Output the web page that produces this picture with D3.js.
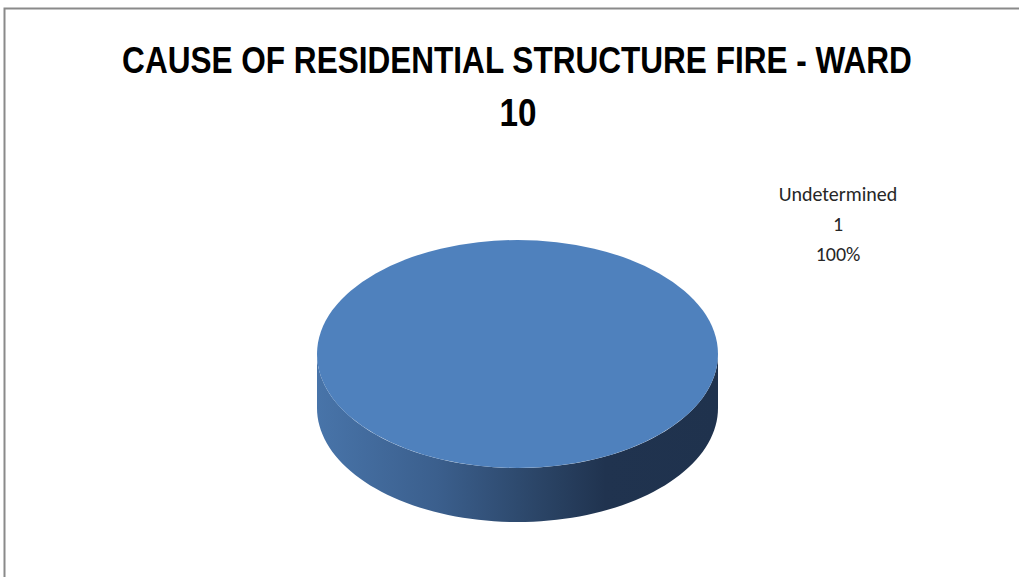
<!DOCTYPE html>
<html>
<head>
<meta charset="utf-8">
<script src="https://cdn.jsdelivr.net/npm/d3@7"></script>
<style>
  html, body { margin: 0; padding: 0; background: #ffffff; }
  svg { display: block; }
</style>
</head>
<body>
<svg id="chart" width="1019" height="577"></svg>
<script>
// ---- data ----
const titleLines = ["CAUSE OF RESIDENTIAL STRUCTURE FIRE - WARD", "10"];
const categories = ["Undetermined"];
const values = [1];
const colors = ["#4f81bd"];

const svg = d3.select("#chart");
const W = 1019, H = 577;

// chart border (only top and left visible in the crop)
svg.append("path")
  .attr("d", `M4.5,${H + 5} L4.5,8.5 L${W + 5},8.5`)
  .attr("fill", "none")
  .attr("stroke", "#8a8a8a")
  .attr("stroke-width", 2);

// title: condensed look via horizontal scaling
const titleFont = "'Liberation Sans', Arial, sans-serif";
const titleSize = 37;
const tg1 = svg.append("g");
const t1 = tg1.append("text")
  .attr("x", 0).attr("y", 0)
  .attr("text-anchor", "middle")
  .attr("font-family", titleFont)
  .attr("font-weight", "bold")
  .attr("font-size", titleSize)
  .attr("fill", "#000")
  .text(titleLines[0]);
const natural = t1.node().getComputedTextLength();
const sx = Math.min(1, 790 / natural);
tg1.attr("transform", `translate(517,73) scale(${sx},1)`);

svg.append("g")
  .attr("transform", `translate(518,126) scale(${sx},1)`)
  .append("text")
  .attr("x", 0).attr("y", 0)
  .attr("text-anchor", "middle")
  .attr("font-family", titleFont)
  .attr("font-weight", "bold")
  .attr("font-size", titleSize + 2)
  .attr("fill", "#000")
  .text(titleLines[1]);

// ---- 3D pie ----
const cx = 517.5, cy = 354, rx = 200.5, ry = 114, depth = 54;

const pie = d3.pie().sort(null).value(d => d)(values);

const defs = svg.append("defs");
const grad = defs.append("linearGradient")
  .attr("id", "sideGrad")
  .attr("gradientUnits", "userSpaceOnUse")
  .attr("x1", cx - rx).attr("y1", 0)
  .attr("x2", cx + rx).attr("y2", 0);
grad.append("stop").attr("offset", 0).attr("stop-color", "#4874a9");
grad.append("stop").attr("offset", 0.3).attr("stop-color", "#3b5f8d");
grad.append("stop").attr("offset", 0.55).attr("stop-color", "#2b4567");
grad.append("stop").attr("offset", 0.72).attr("stop-color", "#20334f");
grad.append("stop").attr("offset", 1).attr("stop-color", "#1f324d");

function pt(a, dy) {
  return [cx + rx * Math.sin(a), cy - ry * Math.cos(a) + dy];
}

// side walls (front half only: angles PI/2 .. 3PI/2)
pie.forEach((s, i) => {
  const a0 = Math.max(s.startAngle, Math.PI / 2);
  const a1 = Math.min(s.endAngle, 3 * Math.PI / 2);
  if (a1 <= a0) return;
  const n = 80;
  const top = d3.range(n + 1).map(k => pt(a0 + (a1 - a0) * k / n, 0));
  const bot = top.map(p => [p[0], p[1] + depth]).reverse();
  svg.append("path")
    .attr("d", d3.line()(top.concat(bot)) + "Z")
    .attr("fill", "url(#sideGrad)");
});

// top face: arc scaled vertically
const arc = d3.arc().innerRadius(0).outerRadius(rx);
svg.append("g")
  .attr("transform", `translate(${cx},${cy}) scale(1,${ry / rx})`)
  .selectAll("path")
  .data(pie)
  .join("path")
  .attr("d", arc)
  .attr("fill", (d, i) => colors[i]);

// data label
const total = d3.sum(values);
const labelFont = "Carlito, 'Open Sans', 'Liberation Sans', sans-serif";
pie.forEach((s, i) => {
  const lines = [categories[i], String(values[i]), d3.format(".0%")(values[i] / total)];
  lines.forEach((txt, k) => {
    svg.append("text")
      .attr("x", 838).attr("y", 201 + k * 30)
      .attr("text-anchor", "middle")
      .attr("font-family", labelFont)
      .attr("font-size", 20)
      .attr("fill", "#262626")
      .text(txt);
  });
});
</script>
</body>
</html>
